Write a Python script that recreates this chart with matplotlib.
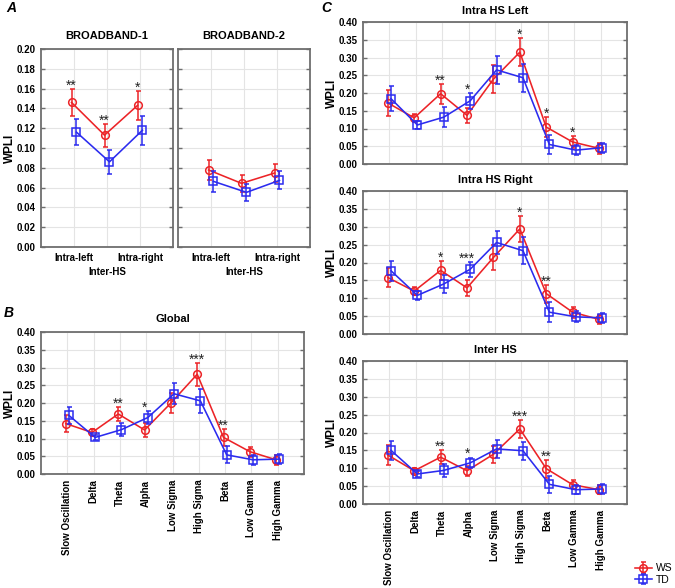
import matplotlib
matplotlib.use('Agg')
import matplotlib.pyplot as plt
import numpy as np

plt.rcParams['font.family'] = ['Liberation Sans', 'DejaVu Sans']

# ---------------- data ----------------
bands = ['Slow Oscillation', 'Delta', 'Theta', 'Alpha', 'Low Sigma',
         'High Sigma', 'Beta', 'Low Gamma', 'High Gamma']
regions = ['Intra-left', 'Inter-HS', 'Intra-right']

bb1_ws = [0.146, 0.113, 0.143]
bb1_ws_err = [0.0135, 0.0115, 0.0145]
bb1_td = [0.116, 0.086, 0.118]
bb1_td_err = [0.013, 0.012, 0.0147]
bb1_stars = ['**', '**', '*']

bb2_ws = [0.0778, 0.0643, 0.0747]
bb2_ws_err = [0.0105, 0.0083, 0.0095]
bb2_td = [0.0663, 0.0552, 0.0673]
bb2_td_err = [0.0103, 0.0088, 0.0092]
bb2_stars = ['', '', '']

glob_ws = [0.142, 0.117, 0.169, 0.124, 0.200, 0.281, 0.103, 0.063, 0.040]
glob_ws_err = [0.025, 0.010, 0.020, 0.019, 0.029, 0.032, 0.023, 0.014, 0.014]
glob_td = [0.165, 0.103, 0.125, 0.159, 0.226, 0.206, 0.054, 0.040, 0.042]
glob_td_err = [0.025, 0.008, 0.019, 0.018, 0.029, 0.033, 0.024, 0.014, 0.014]
glob_stars = ['', '', '**', '*', '', '***', '**', '', '']

left_ws = [0.172, 0.130, 0.198, 0.137, 0.239, 0.315, 0.104, 0.062, 0.044]
left_ws_err = [0.036, 0.012, 0.028, 0.021, 0.039, 0.040, 0.027, 0.016, 0.015]
left_td = [0.184, 0.110, 0.132, 0.178, 0.265, 0.243, 0.055, 0.039, 0.046]
left_td_err = [0.036, 0.012, 0.028, 0.022, 0.040, 0.040, 0.027, 0.015, 0.014]
left_stars = ['', '', '**', '*', '', '*', '*', '*', '']

right_ws = [0.158, 0.120, 0.178, 0.129, 0.214, 0.294, 0.113, 0.061, 0.041]
right_ws_err = [0.027, 0.012, 0.026, 0.022, 0.036, 0.036, 0.025, 0.015, 0.013]
right_td = [0.177, 0.108, 0.140, 0.181, 0.256, 0.233, 0.061, 0.048, 0.045]
right_td_err = [0.028, 0.012, 0.024, 0.021, 0.033, 0.037, 0.028, 0.015, 0.013]
right_stars = ['', '', '*', '***', '', '*', '**', '', '']

inter_ws = [0.137, 0.093, 0.131, 0.093, 0.139, 0.210, 0.099, 0.054, 0.040]
inter_ws_err = [0.027, 0.009, 0.019, 0.014, 0.023, 0.025, 0.025, 0.013, 0.012]
inter_td = [0.150, 0.084, 0.094, 0.115, 0.154, 0.149, 0.055, 0.040, 0.042]
inter_td_err = [0.026, 0.009, 0.018, 0.015, 0.024, 0.025, 0.024, 0.012, 0.013]
inter_stars = ['', '', '**', '*', '', '***', '**', '', '']

RED = '#ec2327'
BLUE = '#2b2bef'
W, H = 675, 588

fig = plt.figure(figsize=(W / 100, H / 100), dpi=100)


def box(x0, y0, x1, y1):
    return [x0 / W, 1 - y1 / H, (x1 - x0) / W, (y1 - y0) / H]


def style(ax, ymax, ystep, ylabels=True):
    ax.set_ylim(0, ymax)
    ax.set_yticks(np.round(np.arange(0, ymax + 1e-9, ystep), 3))
    ax.yaxis.set_major_formatter(matplotlib.ticker.FormatStrFormatter('%.2f'))
    ax.grid(True, which='major', color='#e4e4e4', lw=0.8)
    ax.set_axisbelow(True)
    for s in ax.spines.values():
        s.set_color('#6e6e6e')
        s.set_linewidth(1.3)
    ax.tick_params(axis='y', direction='in', length=3, width=1, color='#6e6e6e',
                   left=True, right=True, labelsize=7, pad=4)
    ax.tick_params(axis='x', which='both', length=0, labelsize=7, pad=4)
    for t in ax.get_yticklabels():
        t.set_fontweight('bold')
    if ylabels:
        ax.set_ylabel('WPLI', fontsize=8.5, fontweight='bold', labelpad=0)
    else:
        ax.set_yticklabels([])


def series(ax, ws, ws_err, td, td_err, stars, off):
    x = np.arange(len(ws))
    ax.errorbar(x - off, ws, yerr=ws_err, color=RED, marker='o', ms=5.5, mfc='none',
                mew=1.1, lw=1.15, elinewidth=1.1, capsize=1.8, capthick=1, label='WS', zorder=3)
    ax.errorbar(x + off, td, yerr=td_err, color=BLUE, marker='s', ms=5.5, mfc='none',
                mew=1.1, lw=1.15, elinewidth=1.1, capsize=1.8, capthick=1, label='TD', zorder=4)
    for i, s in enumerate(stars):
        if s:
            top = max(ws[i] + ws_err[i], td[i] + td_err[i])
            ax.annotate(s, (i - off, top), xytext=(0, -0.5), textcoords='offset points',
                        ha='center', va='baseline', fontsize=10, color='#222222')
    ax.set_xlim(-1, len(ws))
    ax.set_xticks(x)


def region_labels(ax):
    ax.xaxis.remove_overlapping_locs = False
    ax.set_xticklabels([regions[0], '', regions[2]], fontweight='bold')
    ax.set_xticks([1], minor=True)
    ax.set_xticklabels([regions[1]], minor=True, fontweight='bold')
    ax.tick_params(axis='x', which='minor', pad=14.5, labelsize=7, length=0)


# Panel A
axA1 = fig.add_axes(box(41, 49, 173, 247))
series(axA1, bb1_ws, bb1_ws_err, bb1_td, bb1_td_err, bb1_stars, 0.075)
style(axA1, 0.2, 0.02)
region_labels(axA1)
axA1.set_title('BROADBAND-1', fontsize=8, fontweight='bold', pad=7)

axA2 = fig.add_axes(box(178, 49, 310, 247))
series(axA2, bb2_ws, bb2_ws_err, bb2_td, bb2_td_err, bb2_stars, 0.075)
style(axA2, 0.2, 0.02, ylabels=False)
region_labels(axA2)
axA2.set_title('BROADBAND-2', fontsize=8, fontweight='bold', pad=7)

# Panel B
axB = fig.add_axes(box(41, 332, 304, 474))
series(axB, glob_ws, glob_ws_err, glob_td, glob_td_err, glob_stars, 0.06)
style(axB, 0.4, 0.05)
axB.set_xticklabels(bands, rotation=90, fontweight='bold')
axB.set_title('Global', fontsize=8, fontweight='bold', pad=7)

# Panel C
axC1 = fig.add_axes(box(363, 22, 627, 164))
series(axC1, left_ws, left_ws_err, left_td, left_td_err, left_stars, 0.06)
style(axC1, 0.4, 0.05)
axC1.set_xticklabels([])
axC1.set_title('Intra HS Left', fontsize=8, fontweight='bold', pad=6)

axC2 = fig.add_axes(box(363, 191, 627, 334))
series(axC2, right_ws, right_ws_err, right_td, right_td_err, right_stars, 0.06)
style(axC2, 0.4, 0.05)
axC2.set_xticklabels([])
axC2.set_title('Intra HS Right', fontsize=8, fontweight='bold', pad=6)

axC3 = fig.add_axes(box(363, 361, 627, 504))
series(axC3, inter_ws, inter_ws_err, inter_td, inter_td_err, inter_stars, 0.06)
style(axC3, 0.4, 0.05)
axC3.set_xticklabels(bands, rotation=90, fontweight='bold')
axC3.set_title('Inter HS', fontsize=8, fontweight='bold', pad=6)

# Panel letters
fig.text(6 / W, 1 - 8 / H, 'A', fontsize=10, fontweight='bold', style='italic', va='center')
fig.text(4 / W, 1 - 313 / H, 'B', fontsize=10, fontweight='bold', style='italic', va='center')
fig.text(321 / W, 1 - 8 / H, 'C', fontsize=10, fontweight='bold', style='italic', va='center')

# Legend
h, l = axC3.get_legend_handles_labels()
fig.legend(h, l, loc='lower left', bbox_to_anchor=(632 / W, 0.0), frameon=False,
           fontsize=7.5, handlelength=1.6, handletextpad=0.4, labelspacing=0.15,
           borderpad=0.2, borderaxespad=0.1)

fig.savefig('out.png', dpi=100)
